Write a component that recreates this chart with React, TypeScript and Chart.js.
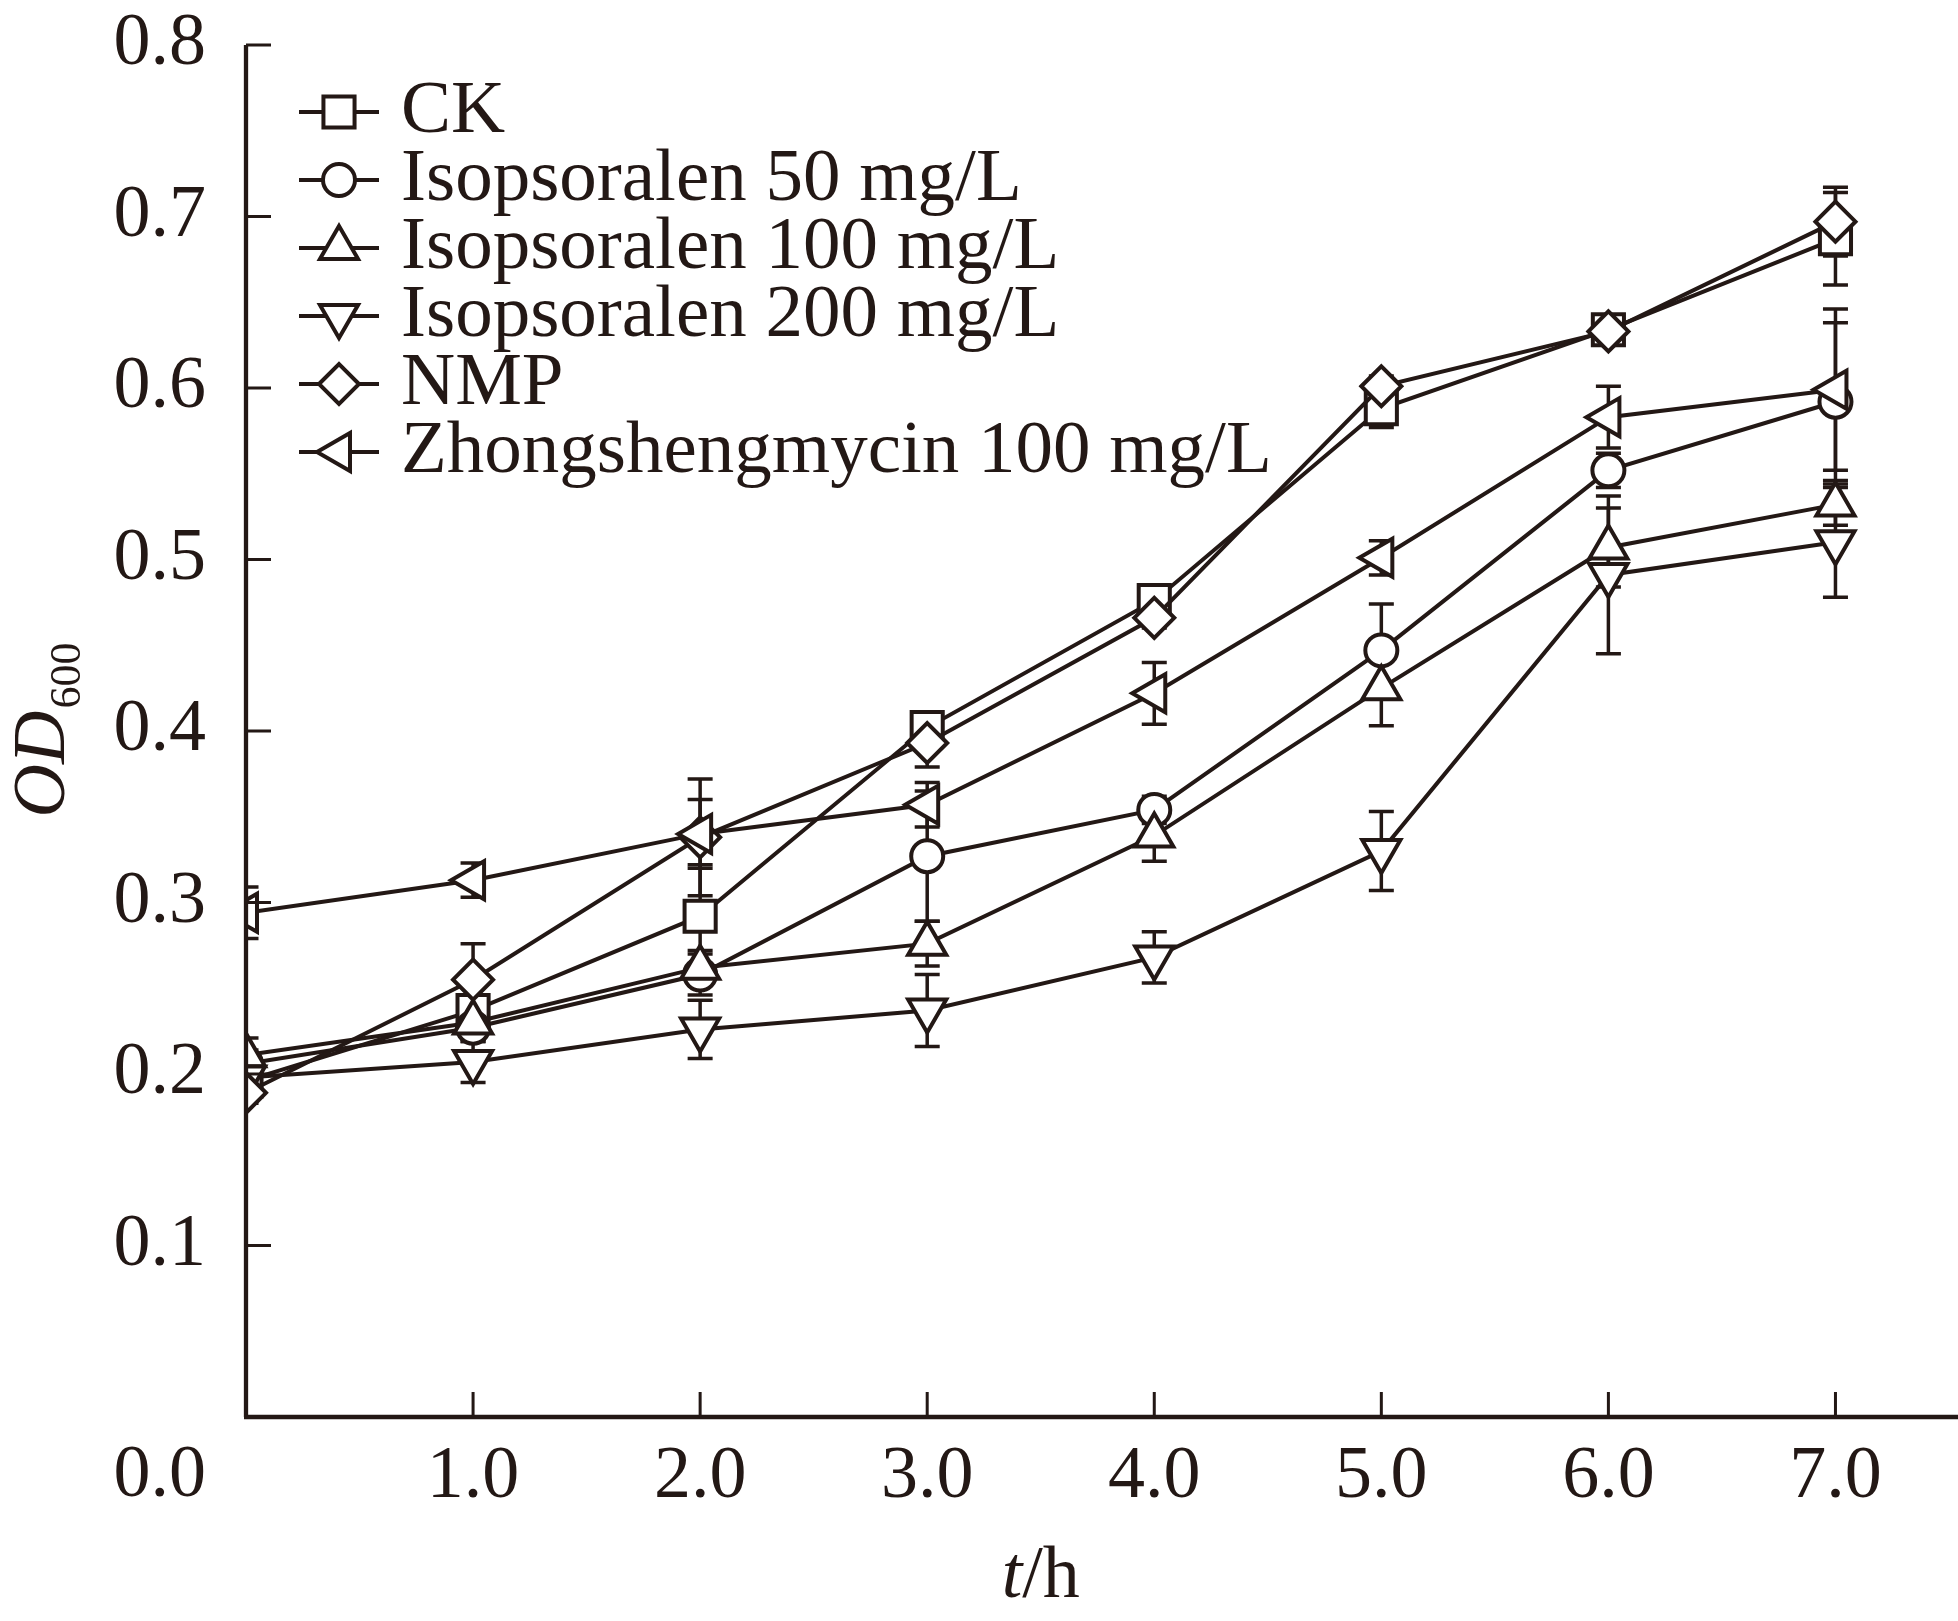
import { useEffect, useRef } from "react";
import { Chart, PointElement, registerables } from "chart.js";

Chart.register(...registerables);

// time points (h)
const hours = [0, 1, 2, 3, 4, 5, 6, 7];
const xTickValues = [1, 2, 3, 4, 5, 6, 7];
const yTickValues = [0.1, 0.2, 0.3, 0.4, 0.5, 0.6, 0.7, 0.8];

const seriesNames = [
  "CK",
  "Isopsoralen 50 mg/L",
  "Isopsoralen 100 mg/L",
  "Isopsoralen 200 mg/L",
  "NMP",
  "Zhongshengmycin 100 mg/L",
];

// OD600 means and error bars
const ck = [0.196, 0.237, 0.292, 0.402, 0.476, 0.588, 0.634, 0.687];
const ckErr = [0.008, 0.008, 0.03, 0.008, 0.008, 0.011, 0.006, 0.027];
const iso50 = [0.206, 0.227, 0.258, 0.327, 0.354, 0.447, 0.552, 0.592];
const iso50Err = [0.008, 0.008, 0.012, 0.038, 0.008, 0.027, 0.01, 0.046];
const iso100 = [0.211, 0.23, 0.262, 0.276, 0.339, 0.425, 0.507, 0.532];
const iso100Err = [0.01, 0.008, 0.01, 0.013, 0.015, 0.022, 0.023, 0.012];
const iso200 = [0.198, 0.207, 0.226, 0.237, 0.268, 0.33, 0.491, 0.51];
const iso200Err = [0.006, 0.012, 0.017, 0.021, 0.015, 0.023, 0.046, 0.032];
const nmp = [0.189, 0.255, 0.338, 0.393, 0.466, 0.601, 0.633, 0.697];
const nmpErr = [0.006, 0.021, 0.034, 0.014, 0.006, 0.006, 0.005, 0.02];
const zsm = [0.294, 0.313, 0.34, 0.357, 0.422, 0.501, 0.583, 0.599];
const zsmErr = [0.015, 0.01, 0.02, 0.013, 0.018, 0.01, 0.018, 0.047];

const seriesValues = [ck, iso50, iso100, iso200, nmp, zsm];
const seriesErrors = [ckErr, iso50Err, iso100Err, iso200Err, nmpErr, zsmErr];

const ink = "#231815";
const serif = "'Liberation Serif', 'Times New Roman', serif";
const stroke = 4;
const markers = [
  { style: "rect", radius: 22, rotation: 0 },
  { style: "circle", radius: 16, rotation: 0 },
  { style: "triangle", radius: 22, rotation: 0 },
  { style: "triangle", radius: 22, rotation: 180 },
  { style: "rectRot", radius: 20, rotation: 0 },
  { style: "triangle", radius: 22, rotation: 270 },
];

const decorPlugin = {
  id: "decor",
  beforeDatasetsDraw(chart: any) {
    const { ctx, chartArea, scales } = chart;
    const xs = scales.x;
    const ys = scales.y;
    ctx.save();
    ctx.beginPath();
    ctx.rect(chartArea.left, 0, chart.width, chart.height);
    ctx.clip();
    ctx.strokeStyle = ink;
    ctx.lineWidth = 3.5;
    seriesValues.forEach((vals, i) => {
      vals.forEach((v, j) => {
        const e = seriesErrors[i][j];
        const x = xs.getPixelForValue(hours[j]);
        const yHi = ys.getPixelForValue(v + e);
        const yLo = ys.getPixelForValue(v - e);
        ctx.beginPath();
        ctx.moveTo(x, yHi);
        ctx.lineTo(x, yLo);
        ctx.moveTo(x - 12.5, yHi);
        ctx.lineTo(x + 12.5, yHi);
        ctx.moveTo(x - 12.5, yLo);
        ctx.lineTo(x + 12.5, yLo);
        ctx.stroke();
      });
    });
    ctx.restore();
  },
  afterDraw(chart: any) {
    const { ctx, chartArea, scales } = chart;
    const xs = scales.x;
    const ys = scales.y;
    ctx.save();
    ctx.strokeStyle = ink;
    ctx.fillStyle = ink;

    // axis lines
    ctx.lineWidth = 4.3;
    ctx.beginPath();
    ctx.moveTo(chartArea.left, chartArea.top);
    ctx.lineTo(chartArea.left, chartArea.bottom);
    ctx.moveTo(chartArea.left - 2, chartArea.bottom);
    ctx.lineTo(chart.width, chartArea.bottom);
    ctx.stroke();

    // inward ticks
    ctx.lineWidth = 3;
    ctx.beginPath();
    yTickValues.forEach((v) => {
      const y = ys.getPixelForValue(v);
      ctx.moveTo(chartArea.left, y);
      ctx.lineTo(chartArea.left + 25, y);
    });
    xTickValues.forEach((v) => {
      const x = xs.getPixelForValue(v);
      ctx.moveTo(x, chartArea.bottom);
      ctx.lineTo(x, chartArea.bottom - 25);
    });
    ctx.stroke();

    // shared origin label
    ctx.font = `74px ${serif}`;
    ctx.textAlign = "right";
    ctx.textBaseline = "middle";
    ctx.fillText("0.0", chartArea.left - 40, chartArea.bottom + 60);

    // x title: t/h
    const tx = xs.getPixelForValue(3.5);
    ctx.textBaseline = "alphabetic";
    ctx.textAlign = "left";
    ctx.font = `italic 74px ${serif}`;
    const tW = ctx.measureText("t").width;
    ctx.font = `74px ${serif}`;
    const hW = ctx.measureText("/h").width;
    const tx0 = tx - (tW + hW) / 2;
    ctx.font = `italic 74px ${serif}`;
    ctx.fillText("t", tx0, 1597);
    ctx.font = `74px ${serif}`;
    ctx.fillText("/h", tx0 + tW, 1597);

    // y title: OD600
    ctx.save();
    ctx.translate(64, (chartArea.top + chartArea.bottom) / 2);
    ctx.rotate(-Math.PI / 2);
    ctx.font = `italic 74px ${serif}`;
    const odW = ctx.measureText("OD").width;
    ctx.font = `44px ${serif}`;
    const subW = ctx.measureText("600").width;
    const s0 = -(odW + subW) / 2;
    ctx.font = `italic 74px ${serif}`;
    ctx.fillText("OD", s0, 0);
    ctx.font = `44px ${serif}`;
    ctx.fillText("600", s0 + odW + 2, 16);
    ctx.restore();

    // legend
    seriesNames.forEach((name, i) => {
      const y = 112 + i * 68;
      ctx.strokeStyle = ink;
      ctx.lineWidth = stroke;
      ctx.beginPath();
      ctx.moveTo(299, y);
      ctx.lineTo(379, y);
      ctx.stroke();
      const m = markers[i];
      const p: any = new (PointElement as any)({
        x: 339,
        y,
        options: {
          pointStyle: m.style,
          radius: m.radius,
          rotation: m.rotation,
          borderWidth: stroke,
          borderColor: ink,
          backgroundColor: "#ffffff",
        },
      });
      p.draw(ctx);
      ctx.fillStyle = ink;
      ctx.font = `75px ${serif}`;
      ctx.textAlign = "left";
      ctx.textBaseline = "middle";
      ctx.fillText(name, 401, y);
    });
    ctx.restore();
  },
};

export default function App() {
  const canvasRef = useRef<HTMLCanvasElement>(null);

  useEffect(() => {
    if (!canvasRef.current) return;

    const chart = new Chart(canvasRef.current, {
      type: "line",
      data: {
        datasets: seriesNames.map((name, i) => ({
          label: name,
          data: hours.map((h, j) => ({ x: h, y: seriesValues[i][j] })),
          borderColor: ink,
          borderWidth: stroke,
          backgroundColor: "#ffffff",
          pointStyle: markers[i].style as any,
          pointRadius: markers[i].radius,
          pointRotation: markers[i].rotation,
          pointBorderWidth: stroke,
          pointBorderColor: ink,
          pointBackgroundColor: "#ffffff",
          tension: 0,
          order: seriesNames.length - i,
          clip: { left: 0, top: false, right: false, bottom: false } as any,
        })),
      },
      options: {
        animation: false,
        responsive: true,
        maintainAspectRatio: false,
        events: [],
        layout: {
          autoPadding: false,
          padding: { top: 45, right: 9, left: 0, bottom: 0 },
        },
        plugins: {
          legend: { display: false },
          tooltip: { enabled: false },
        },
        scales: {
          x: {
            type: "linear",
            min: 0,
            max: 7.5,
            afterBuildTicks: (s: any) => {
              s.ticks = xTickValues.map((v) => ({ value: v }));
            },
            afterFit: (s: any) => {
              s.height = 204;
              s.paddingLeft = 0;
              s.paddingRight = 0;
            },
            grid: { display: false, drawTicks: false },
            border: { display: false },
            ticks: {
              padding: 16,
              color: ink,
              font: { family: serif, size: 74 },
              maxRotation: 0,
              autoSkip: false,
              callback: (v: any) => Number(v).toFixed(1),
            },
          },
          y: {
            type: "linear",
            min: 0,
            max: 0.8,
            afterBuildTicks: (s: any) => {
              s.ticks = yTickValues.map((v) => ({ value: v }));
            },
            afterFit: (s: any) => {
              s.width = 246;
              s.paddingTop = 0;
              s.paddingBottom = 0;
            },
            grid: { display: false, drawTicks: false },
            border: { display: false },
            ticks: {
              padding: 40,
              color: ink,
              font: { family: serif, size: 74 },
              autoSkip: false,
              callback: (v: any) => Number(v).toFixed(1),
            },
          },
        },
      },
      plugins: [decorPlugin],
    });

    return () => {
      chart.destroy();
    };
  }, []);

  return (
    <div
      style={{
        position: "fixed",
        left: 0,
        top: 0,
        width: 1958,
        height: 1621,
        background: "#ffffff",
      }}
    >
      <canvas ref={canvasRef} />
    </div>
  );
}
